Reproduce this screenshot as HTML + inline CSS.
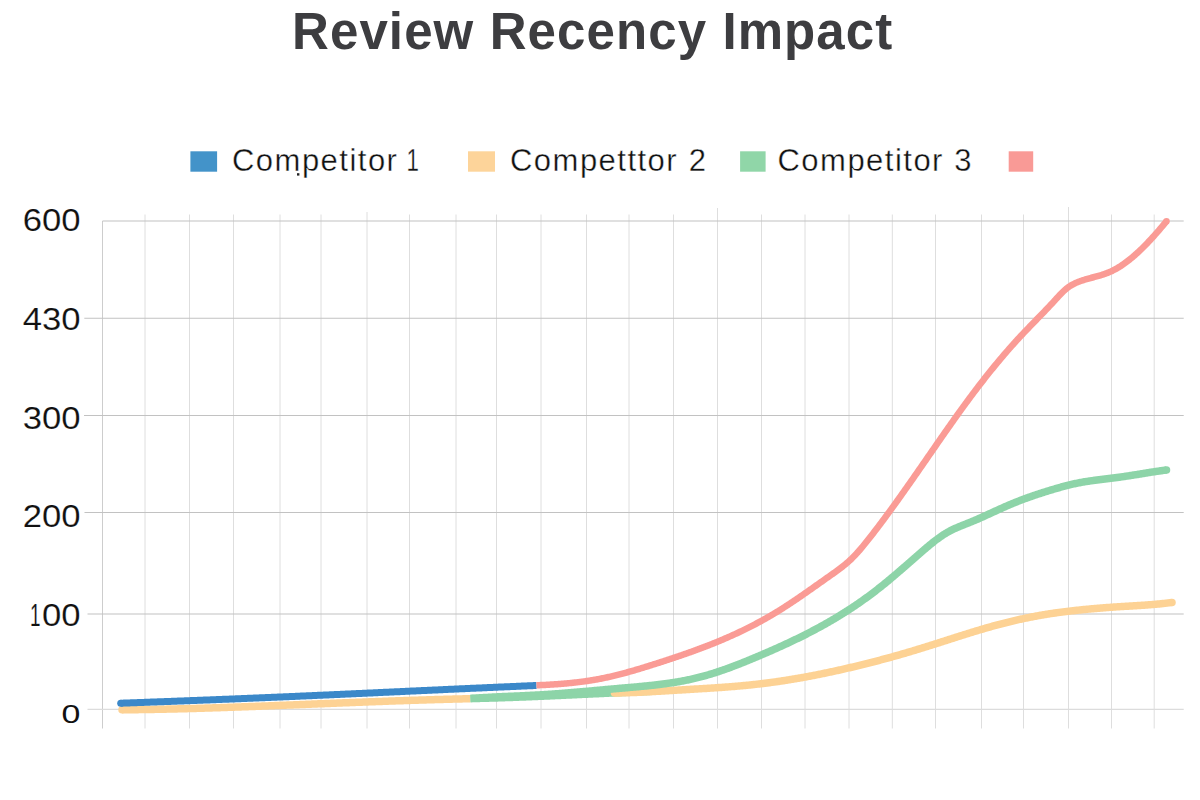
<!DOCTYPE html>
<html>
<head>
<meta charset="utf-8">
<style>
html,body{margin:0;padding:0;background:#ffffff;width:1200px;height:800px;overflow:hidden;}
svg{display:block;}
text{font-family:"Liberation Sans", sans-serif;}
</style>
</head>
<body>
<svg width="1200" height="800" viewBox="0 0 1200 800">
<rect x="0" y="0" width="1200" height="800" fill="#ffffff"/>
<!-- title -->
<text x="292" y="49.2" font-size="51" font-weight="bold" fill="#3d3d40" letter-spacing="1.1">Review Recency Impact</text>

<!-- legend -->
<rect x="190.4" y="151.3" width="26.7" height="20.4" fill="#4393c9"/>
<g font-size="31" fill="#111111" letter-spacing="1.48" stroke="#ffffff" stroke-width="0.35">
<text x="232" y="170.9">Competitor</text>
<text x="419" y="170.9" id="n1" text-anchor="end" letter-spacing="0" transform="translate(419 0) scale(0.72 1) translate(-419 0)">1</text>
<text x="510" y="170.9">Competttor</text>
<text x="706" y="170.9" id="n2" text-anchor="end" letter-spacing="0">2</text>
<text x="777.5" y="170.9">Competitor</text>
<text x="971.5" y="170.9" id="n3" text-anchor="end" letter-spacing="0">3</text>
</g>
<rect id="dot" x="297" y="173.2" width="2.4" height="2.4" fill="#222"/>
<rect x="468" y="151.3" width="27" height="20.4" fill="#fdd49a"/>
<rect x="740.1" y="151.3" width="25.5" height="20.4" fill="#90d6a8"/>
<rect x="1008.7" y="151.3" width="24.5" height="20.4" fill="#f99a96"/>

<!-- grid -->
<g stroke="#dedede" stroke-width="1" fill="none" id="vgrid">
<line x1="102.5" y1="221" x2="102.5" y2="728.5" stroke="#cdcdcd"/>
<line x1="145" y1="214.5" x2="145" y2="728.5"/>
<line x1="189.5" y1="214.5" x2="189.5" y2="728.5"/>
<line x1="233.5" y1="214.5" x2="233.5" y2="728.5"/>
<line x1="280" y1="214.5" x2="280" y2="728.5"/>
<line x1="321" y1="214.5" x2="321" y2="728.5"/>
<line x1="367" y1="212" x2="367" y2="728.5"/>
<line x1="409.5" y1="214.5" x2="409.5" y2="728.5"/>
<line x1="456" y1="214.5" x2="456" y2="728.5"/>
<line x1="496.5" y1="214.5" x2="496.5" y2="728.5"/>
<line x1="541" y1="214.5" x2="541" y2="728.5"/>
<line x1="586.5" y1="214.5" x2="586.5" y2="728.5"/>
<line x1="629" y1="214.5" x2="629" y2="728.5"/>
<line x1="673.5" y1="214.5" x2="673.5" y2="728.5"/>
<line x1="717.5" y1="208" x2="717.5" y2="728.5"/>
<line x1="761.5" y1="214.5" x2="761.5" y2="728.5"/>
<line x1="805" y1="214.5" x2="805" y2="728.5"/>
<line x1="849" y1="214.5" x2="849" y2="728.5"/>
<line x1="892.3" y1="214.5" x2="892.3" y2="728.5"/>
<line x1="935.5" y1="214.5" x2="935.5" y2="728.5"/>
<line x1="981.5" y1="214.5" x2="981.5" y2="728.5"/>
<line x1="1023.5" y1="214.5" x2="1023.5" y2="728.5"/>
<line x1="1068.5" y1="207" x2="1068.5" y2="728.5"/>
<line x1="1111.5" y1="214.5" x2="1111.5" y2="728.5"/>
<line x1="1154.2" y1="214.5" x2="1154.2" y2="728.5"/>
</g>
<g stroke="#c2c2c2" stroke-width="1.1" fill="none" id="hgrid">
<line x1="102.5" y1="221" x2="1183.7" y2="221"/>
<line x1="84.3" y1="318.3" x2="1183.7" y2="318.3"/>
<line x1="84" y1="415.5" x2="1183.7" y2="415.5"/>
<line x1="84.5" y1="512.5" x2="1183.7" y2="512.5"/>
<line x1="87.5" y1="614" x2="1183.7" y2="614"/>
<line x1="87.5" y1="709.4" x2="1183.7" y2="709.4" stroke="#dcdcdc"/>
</g>

<!-- y labels -->
<g font-size="31.5" fill="#111111" stroke="#ffffff" stroke-width="0.15" id="ylabels">
<text x="80.5" y="231.00" text-anchor="end" transform="translate(80.5 0) scale(1.1 1) translate(-80.5 0)">600</text>
<text x="80.5" y="329.80" text-anchor="end" transform="translate(80.5 0) scale(1.1 1) translate(-80.5 0)">430</text>
<text x="80.5" y="429.00" text-anchor="end" transform="translate(80.5 0) scale(1.1 1) translate(-80.5 0)">300</text>
<text x="80.5" y="526.90" text-anchor="end" transform="translate(80.5 0) scale(1.1 1) translate(-80.5 0)">200</text>
<text x="80.5" y="626.45" text-anchor="end" transform="translate(80.5 0) scale(1.1 1) translate(-80.5 0)">00</text>
<text x="40.4" y="626.45" text-anchor="end" transform="translate(40.4 0) scale(0.6 1) translate(-40.4 0)">1</text>
<text x="80.4" y="722.6" font-size="26.5" stroke="none" text-anchor="end" transform="translate(80.4 0) scale(1.28 1) translate(-80.4 0)">0</text>
</g>

<!-- series -->
<g fill="none" stroke-width="7" stroke-linejoin="round" id="series">
<path d="M122.0,709.80 L123.0,709.79 L124.0,709.79 L125.0,709.78 L126.0,709.77 L127.0,709.76 L128.0,709.75 L129.0,709.74 L130.0,709.73 L131.0,709.72 L132.0,709.71 L133.0,709.70 L134.0,709.68 L135.0,709.67 L136.0,709.66 L137.0,709.65 L138.0,709.63 L139.0,709.62 L140.0,709.61 L141.0,709.59 L142.0,709.58 L143.0,709.56 L144.0,709.55 L145.0,709.53 L146.0,709.52 L147.0,709.50 L148.0,709.49 L149.0,709.47 L150.0,709.45 L151.0,709.44 L152.0,709.42 L153.0,709.40 L154.0,709.38 L155.0,709.36 L156.0,709.35 L157.0,709.33 L158.0,709.31 L159.0,709.29 L160.0,709.27 L161.0,709.25 L162.0,709.23 L163.0,709.21 L164.0,709.19 L165.0,709.17 L166.0,709.14 L167.0,709.12 L168.0,709.10 L169.0,709.08 L170.0,709.06 L171.0,709.03 L172.0,709.01 L173.0,708.99 L174.0,708.96 L175.0,708.94 L176.0,708.92 L177.0,708.89 L178.0,708.87 L179.0,708.84 L180.0,708.82 L181.0,708.79 L182.0,708.77 L183.0,708.74 L184.0,708.72 L185.0,708.69 L186.0,708.66 L187.0,708.64 L188.0,708.61 L189.0,708.58 L190.0,708.55 L191.0,708.53 L192.0,708.50 L193.0,708.47 L194.0,708.44 L195.0,708.41 L196.0,708.39 L197.0,708.36 L198.0,708.33 L199.0,708.30 L200.0,708.27 L201.0,708.24 L202.0,708.21 L203.0,708.18 L204.0,708.15 L205.0,708.12 L206.0,708.09 L207.0,708.06 L208.0,708.02 L209.0,707.99 L210.0,707.96 L211.0,707.93 L212.0,707.90 L213.0,707.87 L214.0,707.83 L215.0,707.80 L216.0,707.77 L217.0,707.74 L218.0,707.70 L219.0,707.67 L220.0,707.64 L221.0,707.60 L222.0,707.57 L223.0,707.54 L224.0,707.50 L225.0,707.47 L226.0,707.43 L227.0,707.40 L228.0,707.36 L229.0,707.33 L230.0,707.29 L231.0,707.26 L232.0,707.22 L233.0,707.19 L234.0,707.15 L235.0,707.12 L236.0,707.08 L237.0,707.05 L238.0,707.01 L239.0,706.97 L240.0,706.94 L241.0,706.90 L242.0,706.87 L243.0,706.83 L244.0,706.79 L245.0,706.76 L246.0,706.72 L247.0,706.68 L248.0,706.64 L249.0,706.61 L250.0,706.57 L251.0,706.53 L252.0,706.49 L253.0,706.46 L254.0,706.42 L255.0,706.38 L256.0,706.34 L257.0,706.30 L258.0,706.27 L259.0,706.23 L260.0,706.19 L261.0,706.15 L262.0,706.11 L263.0,706.07 L264.0,706.03 L265.0,706.00 L266.0,705.96 L267.0,705.92 L268.0,705.88 L269.0,705.84 L270.0,705.80 L271.0,705.76 L272.0,705.72 L273.0,705.68 L274.0,705.64 L275.0,705.60 L276.0,705.56 L277.0,705.52 L278.0,705.48 L279.0,705.44 L280.0,705.40 L281.0,705.36 L282.0,705.32 L283.0,705.28 L284.0,705.24 L285.0,705.20 L286.0,705.16 L287.0,705.12 L288.0,705.08 L289.0,705.04 L290.0,705.00 L291.0,704.96 L292.0,704.92 L293.0,704.88 L294.0,704.84 L295.0,704.80 L296.0,704.76 L297.0,704.72 L298.0,704.68 L299.0,704.64 L300.0,704.60 L301.0,704.56 L302.0,704.52 L303.0,704.48 L304.0,704.44 L305.0,704.40 L306.0,704.36 L307.0,704.32 L308.0,704.28 L309.0,704.24 L310.0,704.20 L311.0,704.15 L312.0,704.11 L313.0,704.07 L314.0,704.03 L315.0,703.99 L316.0,703.95 L317.0,703.91 L318.0,703.87 L319.0,703.83 L320.0,703.79 L321.0,703.75 L322.0,703.71 L323.0,703.67 L324.0,703.63 L325.0,703.59 L326.0,703.55 L327.0,703.51 L328.0,703.47 L329.0,703.43 L330.0,703.39 L331.0,703.35 L332.0,703.31 L333.0,703.27 L334.0,703.23 L335.0,703.19 L336.0,703.15 L337.0,703.11 L338.0,703.07 L339.0,703.03 L340.0,702.99 L341.0,702.95 L342.0,702.91 L343.0,702.87 L344.0,702.83 L345.0,702.79 L346.0,702.75 L347.0,702.71 L348.0,702.67 L349.0,702.63 L350.0,702.59 L351.0,702.55 L352.0,702.52 L353.0,702.48 L354.0,702.44 L355.0,702.40 L356.0,702.36 L357.0,702.32 L358.0,702.28 L359.0,702.24 L360.0,702.20 L361.0,702.17 L362.0,702.13 L363.0,702.09 L364.0,702.05 L365.0,702.01 L366.0,701.97 L367.0,701.94 L368.0,701.90 L369.0,701.86 L370.0,701.82 L371.0,701.78 L372.0,701.75 L373.0,701.71 L374.0,701.67 L375.0,701.63 L376.0,701.60 L377.0,701.56 L378.0,701.52 L379.0,701.49 L380.0,701.45 L381.0,701.41 L382.0,701.38 L383.0,701.34 L384.0,701.30 L385.0,701.27 L386.0,701.23 L387.0,701.19 L388.0,701.16 L389.0,701.12 L390.0,701.09 L391.0,701.05 L392.0,701.01 L393.0,700.98 L394.0,700.94 L395.0,700.91 L396.0,700.87 L397.0,700.84 L398.0,700.80 L399.0,700.77 L400.0,700.73 L401.0,700.70 L402.0,700.67 L403.0,700.63 L404.0,700.60 L405.0,700.56 L406.0,700.53 L407.0,700.50 L408.0,700.46 L409.0,700.43 L410.0,700.39 L411.0,700.36 L412.0,700.33 L413.0,700.30 L414.0,700.26 L415.0,700.23 L416.0,700.20 L417.0,700.17 L418.0,700.13 L419.0,700.10 L420.0,700.07 L421.0,700.04 L422.0,700.01 L423.0,699.98 L424.0,699.94 L425.0,699.91 L426.0,699.88 L427.0,699.85 L428.0,699.82 L429.0,699.79 L430.0,699.76 L431.0,699.73 L432.0,699.70 L433.0,699.67 L434.0,699.64 L435.0,699.61 L436.0,699.58 L437.0,699.55 L438.0,699.52 L439.0,699.50 L440.0,699.47 L441.0,699.44 L442.0,699.41 L443.0,699.38 L444.0,699.36 L445.0,699.33 L446.0,699.30 L447.0,699.27 L448.0,699.25 L449.0,699.22 L450.0,699.19 L451.0,699.17 L452.0,699.14 L453.0,699.11 L454.0,699.09 L455.0,699.06 L456.0,699.04 L457.0,699.01 L458.0,698.99 L459.0,698.96 L460.0,698.94 L461.0,698.91 L462.0,698.89 L463.0,698.87 L464.0,698.84 L465.0,698.82 L466.0,698.80 L467.0,698.77 L468.0,698.75 L469.0,698.73 L470.0,698.70 L470.5,698.69" stroke="#fdd294" stroke-width="7.5" stroke-linecap="butt"/>
<circle cx="122.00" cy="709.80" r="3.75" fill="#fdd294"/>
<path d="M120.7,703.21 L121.7,703.17 L122.7,703.13 L123.7,703.10 L124.7,703.06 L125.7,703.03 L126.7,702.99 L127.7,702.96 L128.7,702.92 L129.7,702.88 L130.7,702.85 L131.7,702.81 L132.7,702.78 L133.7,702.74 L134.7,702.70 L135.7,702.67 L136.7,702.63 L137.7,702.59 L138.7,702.56 L139.7,702.52 L140.7,702.49 L141.7,702.45 L142.7,702.41 L143.7,702.38 L144.7,702.34 L145.7,702.30 L146.7,702.27 L147.7,702.23 L148.7,702.19 L149.7,702.16 L150.7,702.12 L151.7,702.08 L152.7,702.05 L153.7,702.01 L154.7,701.97 L155.7,701.94 L156.7,701.90 L157.7,701.86 L158.7,701.83 L159.7,701.79 L160.7,701.75 L161.7,701.71 L162.7,701.68 L163.7,701.64 L164.7,701.60 L165.7,701.56 L166.7,701.53 L167.7,701.49 L168.7,701.45 L169.7,701.41 L170.7,701.38 L171.7,701.34 L172.7,701.30 L173.7,701.26 L174.7,701.23 L175.7,701.19 L176.7,701.15 L177.7,701.11 L178.7,701.08 L179.7,701.04 L180.7,701.00 L181.7,700.96 L182.7,700.92 L183.7,700.89 L184.7,700.85 L185.7,700.81 L186.7,700.77 L187.7,700.73 L188.7,700.69 L189.7,700.66 L190.7,700.62 L191.7,700.58 L192.7,700.54 L193.7,700.50 L194.7,700.46 L195.7,700.42 L196.7,700.39 L197.7,700.35 L198.7,700.31 L199.7,700.27 L200.7,700.23 L201.7,700.19 L202.7,700.15 L203.7,700.11 L204.7,700.08 L205.7,700.04 L206.7,700.00 L207.7,699.96 L208.7,699.92 L209.7,699.88 L210.7,699.84 L211.7,699.80 L212.7,699.76 L213.7,699.72 L214.7,699.68 L215.7,699.64 L216.7,699.60 L217.7,699.56 L218.7,699.52 L219.7,699.48 L220.7,699.45 L221.7,699.41 L222.7,699.37 L223.7,699.33 L224.7,699.29 L225.7,699.25 L226.7,699.21 L227.7,699.17 L228.7,699.13 L229.7,699.09 L230.7,699.05 L231.7,699.01 L232.7,698.97 L233.7,698.92 L234.7,698.88 L235.7,698.84 L236.7,698.80 L237.7,698.76 L238.7,698.72 L239.7,698.68 L240.7,698.64 L241.7,698.60 L242.7,698.56 L243.7,698.52 L244.7,698.48 L245.7,698.44 L246.7,698.40 L247.7,698.36 L248.7,698.31 L249.7,698.27 L250.7,698.23 L251.7,698.19 L252.7,698.15 L253.7,698.11 L254.7,698.07 L255.7,698.03 L256.7,697.98 L257.7,697.94 L258.7,697.90 L259.7,697.86 L260.7,697.82 L261.7,697.78 L262.7,697.74 L263.7,697.69 L264.7,697.65 L265.7,697.61 L266.7,697.57 L267.7,697.53 L268.7,697.48 L269.7,697.44 L270.7,697.40 L271.7,697.36 L272.7,697.32 L273.7,697.27 L274.7,697.23 L275.7,697.19 L276.7,697.15 L277.7,697.10 L278.7,697.06 L279.7,697.02 L280.7,696.98 L281.7,696.93 L282.7,696.89 L283.7,696.85 L284.7,696.81 L285.7,696.76 L286.7,696.72 L287.7,696.68 L288.7,696.63 L289.7,696.59 L290.7,696.55 L291.7,696.51 L292.7,696.46 L293.7,696.42 L294.7,696.38 L295.7,696.33 L296.7,696.29 L297.7,696.25 L298.7,696.20 L299.7,696.16 L300.7,696.12 L301.7,696.07 L302.7,696.03 L303.7,695.98 L304.7,695.94 L305.7,695.90 L306.7,695.85 L307.7,695.81 L308.7,695.77 L309.7,695.72 L310.7,695.68 L311.7,695.63 L312.7,695.59 L313.7,695.54 L314.7,695.50 L315.7,695.46 L316.7,695.41 L317.7,695.37 L318.7,695.32 L319.7,695.28 L320.7,695.23 L321.7,695.19 L322.7,695.15 L323.7,695.10 L324.7,695.06 L325.7,695.01 L326.7,694.97 L327.7,694.92 L328.7,694.88 L329.7,694.83 L330.7,694.79 L331.7,694.74 L332.7,694.70 L333.7,694.65 L334.7,694.61 L335.7,694.56 L336.7,694.52 L337.7,694.47 L338.7,694.43 L339.7,694.38 L340.7,694.34 L341.7,694.29 L342.7,694.25 L343.7,694.20 L344.7,694.16 L345.7,694.11 L346.7,694.06 L347.7,694.02 L348.7,693.97 L349.7,693.93 L350.7,693.88 L351.7,693.84 L352.7,693.79 L353.7,693.75 L354.7,693.70 L355.7,693.66 L356.7,693.61 L357.7,693.56 L358.7,693.52 L359.7,693.47 L360.7,693.43 L361.7,693.38 L362.7,693.34 L363.7,693.29 L364.7,693.24 L365.7,693.20 L366.7,693.15 L367.7,693.11 L368.7,693.06 L369.7,693.01 L370.7,692.97 L371.7,692.92 L372.7,692.88 L373.7,692.83 L374.7,692.78 L375.7,692.74 L376.7,692.69 L377.7,692.65 L378.7,692.60 L379.7,692.55 L380.7,692.51 L381.7,692.46 L382.7,692.42 L383.7,692.37 L384.7,692.32 L385.7,692.28 L386.7,692.23 L387.7,692.19 L388.7,692.14 L389.7,692.09 L390.7,692.05 L391.7,692.00 L392.7,691.95 L393.7,691.91 L394.7,691.86 L395.7,691.82 L396.7,691.77 L397.7,691.72 L398.7,691.68 L399.7,691.63 L400.7,691.58 L401.7,691.54 L402.7,691.49 L403.7,691.45 L404.7,691.40 L405.7,691.35 L406.7,691.31 L407.7,691.26 L408.7,691.22 L409.7,691.17 L410.7,691.12 L411.7,691.08 L412.7,691.03 L413.7,690.98 L414.7,690.94 L415.7,690.89 L416.7,690.85 L417.7,690.80 L418.7,690.75 L419.7,690.71 L420.7,690.66 L421.7,690.61 L422.7,690.57 L423.7,690.52 L424.7,690.48 L425.7,690.43 L426.7,690.38 L427.7,690.34 L428.7,690.29 L429.7,690.25 L430.7,690.20 L431.7,690.15 L432.7,690.11 L433.7,690.06 L434.7,690.02 L435.7,689.97 L436.7,689.92 L437.7,689.88 L438.7,689.83 L439.7,689.79 L440.7,689.74 L441.7,689.69 L442.7,689.65 L443.7,689.60 L444.7,689.56 L445.7,689.51 L446.7,689.46 L447.7,689.42 L448.7,689.37 L449.7,689.33 L450.7,689.28 L451.7,689.24 L452.7,689.19 L453.7,689.14 L454.7,689.10 L455.7,689.05 L456.7,689.01 L457.7,688.96 L458.7,688.92 L459.7,688.87 L460.7,688.83 L461.7,688.78 L462.7,688.73 L463.7,688.69 L464.7,688.64 L465.7,688.60 L466.7,688.55 L467.7,688.51 L468.7,688.46 L469.7,688.42 L470.7,688.37 L471.7,688.33 L472.7,688.28 L473.7,688.24 L474.7,688.19 L475.7,688.15 L476.7,688.10 L477.7,688.06 L478.7,688.01 L479.7,687.97 L480.7,687.92 L481.7,687.88 L482.7,687.83 L483.7,687.79 L484.7,687.74 L485.7,687.70 L486.7,687.65 L487.7,687.61 L488.7,687.56 L489.7,687.52 L490.7,687.48 L491.7,687.43 L492.7,687.39 L493.7,687.34 L494.7,687.30 L495.7,687.25 L496.7,687.21 L497.7,687.17 L498.7,687.12 L499.7,687.08 L500.7,687.03 L501.7,686.99 L502.7,686.95 L503.7,686.90 L504.7,686.86 L505.7,686.81 L506.7,686.77 L507.7,686.73 L508.7,686.68 L509.7,686.64 L510.7,686.60 L511.7,686.55 L512.7,686.51 L513.7,686.46 L514.7,686.42 L515.7,686.38 L516.7,686.33 L517.7,686.29 L518.7,686.25 L519.7,686.21 L520.7,686.16 L521.7,686.12 L522.7,686.08 L523.7,686.03 L524.7,685.99 L525.7,685.95 L526.7,685.91 L527.7,685.86 L528.7,685.82 L529.7,685.78 L530.7,685.74 L531.7,685.69 L532.7,685.65 L533.7,685.61 L534.7,685.57 L535.7,685.52 L536.5,685.49" stroke="#3b88c9" stroke-width="7.0" stroke-linecap="butt"/>
<circle cx="120.70" cy="703.21" r="3.5" fill="#3b88c9"/>
<path d="M470.5,698.60 L471.5,698.58 L472.5,698.56 L473.5,698.53 L474.5,698.51 L475.5,698.49 L476.5,698.47 L477.5,698.44 L478.5,698.42 L479.5,698.39 L480.5,698.37 L481.5,698.34 L482.5,698.32 L483.5,698.29 L484.5,698.26 L485.5,698.24 L486.5,698.21 L487.5,698.18 L488.5,698.15 L489.5,698.12 L490.5,698.10 L491.5,698.07 L492.5,698.04 L493.5,698.01 L494.5,697.98 L495.5,697.95 L496.5,697.92 L497.5,697.88 L498.5,697.85 L499.5,697.82 L500.5,697.79 L501.5,697.76 L502.5,697.72 L503.5,697.69 L504.5,697.66 L505.5,697.62 L506.5,697.59 L507.5,697.55 L508.5,697.52 L509.5,697.48 L510.5,697.45 L511.5,697.41 L512.5,697.38 L513.5,697.34 L514.5,697.30 L515.5,697.27 L516.5,697.23 L517.5,697.19 L518.5,697.15 L519.5,697.12 L520.5,697.08 L521.5,697.04 L522.5,697.00 L523.5,696.96 L524.5,696.92 L525.5,696.88 L526.5,696.84 L527.5,696.80 L528.5,696.76 L529.5,696.72 L530.5,696.68 L531.5,696.64 L532.5,696.60 L533.5,696.56 L534.5,696.52 L535.5,696.48 L536.5,696.44 L537.5,696.39 L538.5,696.35 L539.5,696.31 L540.5,696.27 L541.5,696.22 L542.5,696.18 L543.5,696.14 L544.5,696.09 L545.5,696.05 L546.5,696.01 L547.5,695.96 L548.5,695.92 L549.5,695.88 L550.5,695.83 L551.5,695.79 L552.5,695.74 L553.5,695.70 L554.5,695.66 L555.5,695.61 L556.5,695.57 L557.5,695.52 L558.5,695.48 L559.5,695.43 L560.5,695.39 L561.5,695.34 L562.5,695.29 L563.5,695.25 L564.5,695.20 L565.5,695.16 L566.5,695.11 L567.5,695.07 L568.5,695.02 L569.5,694.97 L570.5,694.93 L571.5,694.88 L572.5,694.84 L573.5,694.79 L574.5,694.74 L575.5,694.70 L576.5,694.65 L577.5,694.60 L578.5,694.56 L579.5,694.51 L580.5,694.46 L581.5,694.42 L582.5,694.37 L583.5,694.32 L584.5,694.28 L585.5,694.23 L586.5,694.18 L587.5,694.14 L588.5,694.09 L589.5,694.05 L590.5,694.00 L591.5,693.95 L592.5,693.91 L593.5,693.86 L594.5,693.81 L595.5,693.77 L596.5,693.72 L597.5,693.67 L598.5,693.63 L599.5,693.58 L600.5,693.53 L601.5,693.49 L602.5,693.44 L603.5,693.40 L604.5,693.35 L605.5,693.30 L606.5,693.26 L607.5,693.21 L608.5,693.17 L609.5,693.12 L610.5,693.07 L611.5,693.03 L612.5,692.98 L613.5,692.94 L614.5,692.89 L615.5,692.85 L616.5,692.80 L617.5,692.76 L618.5,692.71 L619.5,692.67 L620.5,692.62 L621.5,692.58 L622.5,692.53 L623.5,692.49 L624.5,692.45 L625.5,692.40 L626.5,692.36 L627.5,692.31 L628.5,692.27 L629.5,692.23 L630.5,692.18 L631.5,692.14 L632.5,692.10 L633.5,692.06 L634.5,692.01 L635.5,691.97 L636.5,691.93 L637.5,691.89 L638.5,691.85 L639.5,691.80 L640.5,691.76 L641.5,691.72 L642.5,691.68 L643.5,691.64 L644.5,691.60 L645.5,691.56 L646.5,691.52 L647.5,691.48 L648.5,691.44 L649.5,691.40 L650.5,691.36 L651.5,691.32 L652.5,691.28 L653.5,691.25 L654.5,691.21 L655.5,691.17 L656.5,691.13 L657.5,691.09 L658.5,691.06 L659.5,691.02 L660.0,691.00" stroke="#8dd4a8" stroke-width="7.5" stroke-linecap="butt"/>
<path d="M614.5,693.00 L615.5,692.99 L616.5,692.97 L617.5,692.96 L618.5,692.94 L619.5,692.92 L620.5,692.90 L621.5,692.88 L622.5,692.85 L623.5,692.83 L624.5,692.80 L625.5,692.77 L626.5,692.74 L627.5,692.71 L628.5,692.68 L629.5,692.65 L630.5,692.61 L631.5,692.58 L632.5,692.54 L633.5,692.50 L634.5,692.46 L635.5,692.42 L636.5,692.38 L637.5,692.34 L638.5,692.30 L639.5,692.25 L640.5,692.21 L641.5,692.16 L642.5,692.12 L643.5,692.07 L644.5,692.02 L645.5,691.97 L646.5,691.92 L647.5,691.87 L648.5,691.82 L649.5,691.76 L650.5,691.71 L651.5,691.66 L652.5,691.60 L653.5,691.55 L654.5,691.49 L655.5,691.44 L656.5,691.38 L657.5,691.32 L658.5,691.26 L659.5,691.21 L660.5,691.15 L661.5,691.09 L662.5,691.03 L663.5,690.97 L664.5,690.91 L665.5,690.85 L666.5,690.79 L667.5,690.73 L668.5,690.67 L669.5,690.61 L670.5,690.55 L671.5,690.49 L672.5,690.43 L673.5,690.37 L674.5,690.31 L675.5,690.25 L676.5,690.19 L677.5,690.13 L678.5,690.07 L679.5,690.00 L680.5,689.94 L681.5,689.89 L682.5,689.83 L683.5,689.77 L684.5,689.71 L685.5,689.65 L686.5,689.59 L687.5,689.53 L688.5,689.47 L689.5,689.41 L690.5,689.35 L691.5,689.29 L692.5,689.23 L693.5,689.17 L694.5,689.11 L695.5,689.06 L696.5,689.00 L697.5,688.94 L698.5,688.88 L699.5,688.82 L700.5,688.75 L701.5,688.69 L702.5,688.63 L703.5,688.57 L704.5,688.51 L705.5,688.45 L706.5,688.39 L707.5,688.32 L708.5,688.26 L709.5,688.20 L710.5,688.13 L711.5,688.07 L712.5,688.00 L713.5,687.94 L714.5,687.87 L715.5,687.80 L716.5,687.73 L717.5,687.67 L718.5,687.60 L719.5,687.53 L720.5,687.46 L721.5,687.39 L722.5,687.31 L723.5,687.24 L724.5,687.17 L725.5,687.09 L726.5,687.02 L727.5,686.94 L728.5,686.87 L729.5,686.79 L730.5,686.71 L731.5,686.63 L732.5,686.55 L733.5,686.47 L734.5,686.39 L735.5,686.30 L736.5,686.22 L737.5,686.13 L738.5,686.05 L739.5,685.96 L740.5,685.87 L741.5,685.78 L742.5,685.69 L743.5,685.59 L744.5,685.50 L745.5,685.41 L746.5,685.31 L747.5,685.21 L748.5,685.11 L749.5,685.01 L750.5,684.91 L751.5,684.81 L752.5,684.70 L753.5,684.59 L754.5,684.49 L755.5,684.38 L756.5,684.27 L757.5,684.15 L758.5,684.04 L759.5,683.93 L760.5,683.81 L761.5,683.69 L762.5,683.57 L763.5,683.45 L764.5,683.32 L765.5,683.20 L766.5,683.07 L767.5,682.94 L768.5,682.81 L769.5,682.68 L770.5,682.55 L771.5,682.41 L772.5,682.28 L773.5,682.14 L774.5,682.00 L775.5,681.86 L776.5,681.72 L777.5,681.57 L778.5,681.43 L779.5,681.28 L780.5,681.13 L781.5,680.98 L782.5,680.83 L783.5,680.68 L784.5,680.53 L785.5,680.37 L786.5,680.21 L787.5,680.05 L788.5,679.89 L789.5,679.73 L790.5,679.57 L791.5,679.41 L792.5,679.24 L793.5,679.07 L794.5,678.91 L795.5,678.74 L796.5,678.56 L797.5,678.39 L798.5,678.22 L799.5,678.04 L800.5,677.87 L801.5,677.69 L802.5,677.51 L803.5,677.33 L804.5,677.15 L805.5,676.97 L806.5,676.78 L807.5,676.60 L808.5,676.41 L809.5,676.22 L810.5,676.03 L811.5,675.84 L812.5,675.65 L813.5,675.46 L814.5,675.26 L815.5,675.07 L816.5,674.87 L817.5,674.67 L818.5,674.47 L819.5,674.27 L820.5,674.07 L821.5,673.87 L822.5,673.66 L823.5,673.46 L824.5,673.25 L825.5,673.04 L826.5,672.84 L827.5,672.63 L828.5,672.42 L829.5,672.20 L830.5,671.99 L831.5,671.78 L832.5,671.56 L833.5,671.34 L834.5,671.13 L835.5,670.91 L836.5,670.69 L837.5,670.47 L838.5,670.25 L839.5,670.02 L840.5,669.80 L841.5,669.58 L842.5,669.35 L843.5,669.12 L844.5,668.90 L845.5,668.67 L846.5,668.44 L847.5,668.21 L848.5,667.97 L849.5,667.74 L850.5,667.51 L851.5,667.27 L852.5,667.04 L853.5,666.80 L854.5,666.56 L855.5,666.32 L856.5,666.08 L857.5,665.84 L858.5,665.60 L859.5,665.35 L860.5,665.11 L861.5,664.86 L862.5,664.62 L863.5,664.37 L864.5,664.12 L865.5,663.87 L866.5,663.62 L867.5,663.37 L868.5,663.12 L869.5,662.86 L870.5,662.61 L871.5,662.35 L872.5,662.10 L873.5,661.84 L874.5,661.58 L875.5,661.32 L876.5,661.06 L877.5,660.80 L878.5,660.53 L879.5,660.27 L880.5,660.00 L881.5,659.74 L882.5,659.47 L883.5,659.20 L884.5,658.93 L885.5,658.66 L886.5,658.39 L887.5,658.12 L888.5,657.84 L889.5,657.57 L890.5,657.29 L891.5,657.02 L892.5,656.74 L893.5,656.46 L894.5,656.18 L895.5,655.90 L896.5,655.62 L897.5,655.34 L898.5,655.05 L899.5,654.77 L900.5,654.48 L901.5,654.19 L902.5,653.91 L903.5,653.62 L904.5,653.33 L905.5,653.04 L906.5,652.74 L907.5,652.45 L908.5,652.16 L909.5,651.86 L910.5,651.56 L911.5,651.27 L912.5,650.97 L913.5,650.67 L914.5,650.37 L915.5,650.07 L916.5,649.76 L917.5,649.46 L918.5,649.15 L919.5,648.85 L920.5,648.54 L921.5,648.23 L922.5,647.93 L923.5,647.62 L924.5,647.30 L925.5,646.99 L926.5,646.68 L927.5,646.37 L928.5,646.05 L929.5,645.74 L930.5,645.42 L931.5,645.11 L932.5,644.79 L933.5,644.47 L934.5,644.16 L935.5,643.84 L936.5,643.52 L937.5,643.20 L938.5,642.88 L939.5,642.56 L940.5,642.24 L941.5,641.92 L942.5,641.60 L943.5,641.28 L944.5,640.96 L945.5,640.64 L946.5,640.32 L947.5,640.00 L948.5,639.68 L949.5,639.36 L950.5,639.04 L951.5,638.72 L952.5,638.40 L953.5,638.08 L954.5,637.76 L955.5,637.44 L956.5,637.12 L957.5,636.80 L958.5,636.48 L959.5,636.17 L960.5,635.85 L961.5,635.53 L962.5,635.22 L963.5,634.90 L964.5,634.59 L965.5,634.27 L966.5,633.96 L967.5,633.65 L968.5,633.34 L969.5,633.03 L970.5,632.72 L971.5,632.41 L972.5,632.10 L973.5,631.79 L974.5,631.49 L975.5,631.18 L976.5,630.88 L977.5,630.58 L978.5,630.28 L979.5,629.98 L980.5,629.68 L981.5,629.39 L982.5,629.09 L983.5,628.80 L984.5,628.50 L985.5,628.21 L986.5,627.92 L987.5,627.64 L988.5,627.35 L989.5,627.07 L990.5,626.78 L991.5,626.50 L992.5,626.22 L993.5,625.95 L994.5,625.67 L995.5,625.40 L996.5,625.12 L997.5,624.86 L998.5,624.59 L999.5,624.32 L1000.5,624.06 L1001.5,623.80 L1002.5,623.54 L1003.5,623.28 L1004.5,623.03 L1005.5,622.77 L1006.5,622.52 L1007.5,622.28 L1008.5,622.03 L1009.5,621.79 L1010.5,621.54 L1011.5,621.30 L1012.5,621.07 L1013.5,620.83 L1014.5,620.60 L1015.5,620.37 L1016.5,620.14 L1017.5,619.91 L1018.5,619.69 L1019.5,619.46 L1020.5,619.24 L1021.5,619.03 L1022.5,618.81 L1023.5,618.60 L1024.5,618.39 L1025.5,618.18 L1026.5,617.97 L1027.5,617.76 L1028.5,617.56 L1029.5,617.36 L1030.5,617.16 L1031.5,616.97 L1032.5,616.77 L1033.5,616.58 L1034.5,616.39 L1035.5,616.20 L1036.5,616.02 L1037.5,615.84 L1038.5,615.66 L1039.5,615.48 L1040.5,615.30 L1041.5,615.13 L1042.5,614.96 L1043.5,614.79 L1044.5,614.62 L1045.5,614.45 L1046.5,614.29 L1047.5,614.13 L1048.5,613.97 L1049.5,613.81 L1050.5,613.66 L1051.5,613.51 L1052.5,613.36 L1053.5,613.21 L1054.5,613.07 L1055.5,612.92 L1056.5,612.78 L1057.5,612.64 L1058.5,612.51 L1059.5,612.37 L1060.5,612.24 L1061.5,612.10 L1062.5,611.98 L1063.5,611.85 L1064.5,611.72 L1065.5,611.60 L1066.5,611.47 L1067.5,611.35 L1068.5,611.23 L1069.5,611.11 L1070.5,611.00 L1071.5,610.88 L1072.5,610.77 L1073.5,610.66 L1074.5,610.55 L1075.5,610.44 L1076.5,610.33 L1077.5,610.22 L1078.5,610.11 L1079.5,610.01 L1080.5,609.91 L1081.5,609.80 L1082.5,609.70 L1083.5,609.60 L1084.5,609.50 L1085.5,609.41 L1086.5,609.31 L1087.5,609.21 L1088.5,609.12 L1089.5,609.03 L1090.5,608.93 L1091.5,608.84 L1092.5,608.75 L1093.5,608.66 L1094.5,608.57 L1095.5,608.49 L1096.5,608.40 L1097.5,608.31 L1098.5,608.23 L1099.5,608.15 L1100.5,608.07 L1101.5,607.98 L1102.5,607.90 L1103.5,607.83 L1104.5,607.75 L1105.5,607.67 L1106.5,607.59 L1107.5,607.52 L1108.5,607.44 L1109.5,607.37 L1110.5,607.30 L1111.5,607.23 L1112.5,607.16 L1113.5,607.09 L1114.5,607.02 L1115.5,606.95 L1116.5,606.88 L1117.5,606.82 L1118.5,606.75 L1119.5,606.69 L1120.5,606.63 L1121.5,606.56 L1122.5,606.50 L1123.5,606.44 L1124.5,606.38 L1125.5,606.32 L1126.5,606.26 L1127.5,606.20 L1128.5,606.14 L1129.5,606.08 L1130.5,606.02 L1131.5,605.96 L1132.5,605.91 L1133.5,605.85 L1134.5,605.79 L1135.5,605.73 L1136.5,605.66 L1137.5,605.60 L1138.5,605.54 L1139.5,605.48 L1140.5,605.41 L1141.5,605.35 L1142.5,605.28 L1143.5,605.21 L1144.5,605.15 L1145.5,605.08 L1146.5,605.00 L1147.5,604.93 L1148.5,604.86 L1149.5,604.78 L1150.5,604.70 L1151.5,604.62 L1152.5,604.54 L1153.5,604.45 L1154.5,604.37 L1155.5,604.28 L1156.5,604.19 L1157.5,604.09 L1158.5,604.00 L1159.5,603.90 L1160.5,603.80 L1161.5,603.69 L1162.5,603.58 L1163.5,603.47 L1164.5,603.36 L1165.5,603.24 L1166.5,603.12 L1167.5,603.00 L1168.5,602.87 L1169.5,602.74 L1170.5,602.61 L1171.5,602.47 L1172.0,602.40" stroke="#fdd294" stroke-width="7.5" stroke-linecap="butt"/>
<circle cx="614.50" cy="693.00" r="3.75" fill="#fdd294"/>
<circle cx="1172.00" cy="602.40" r="3.75" fill="#fdd294"/>
<path d="M470.5,698.50 L471.5,698.42 L472.5,698.35 L473.5,698.27 L474.5,698.20 L475.5,698.13 L476.5,698.06 L477.5,697.99 L478.5,697.92 L479.5,697.86 L480.5,697.79 L481.5,697.73 L482.5,697.67 L483.5,697.61 L484.5,697.55 L485.5,697.49 L486.5,697.43 L487.5,697.37 L488.5,697.32 L489.5,697.26 L490.5,697.21 L491.5,697.16 L492.5,697.10 L493.5,697.05 L494.5,697.00 L495.5,696.95 L496.5,696.90 L497.5,696.86 L498.5,696.81 L499.5,696.76 L500.5,696.71 L501.5,696.67 L502.5,696.62 L503.5,696.58 L504.5,696.53 L505.5,696.49 L506.5,696.44 L507.5,696.40 L508.5,696.36 L509.5,696.31 L510.5,696.27 L511.5,696.22 L512.5,696.18 L513.5,696.14 L514.5,696.09 L515.5,696.05 L516.5,696.01 L517.5,695.96 L518.5,695.92 L519.5,695.88 L520.5,695.83 L521.5,695.79 L522.5,695.74 L523.5,695.70 L524.5,695.65 L525.5,695.60 L526.5,695.56 L527.5,695.51 L528.5,695.46 L529.5,695.41 L530.5,695.36 L531.5,695.31 L532.5,695.26 L533.5,695.21 L534.5,695.16 L535.5,695.11 L536.5,695.05 L537.5,695.00 L538.5,694.94 L539.5,694.89 L540.5,694.83 L541.5,694.77 L542.5,694.71 L543.5,694.65 L544.5,694.59 L545.5,694.52 L546.5,694.46 L547.5,694.39 L548.5,694.33 L549.5,694.26 L550.5,694.19 L551.5,694.13 L552.5,694.06 L553.5,693.99 L554.5,693.92 L555.5,693.84 L556.5,693.77 L557.5,693.70 L558.5,693.62 L559.5,693.55 L560.5,693.47 L561.5,693.40 L562.5,693.32 L563.5,693.24 L564.5,693.16 L565.5,693.08 L566.5,693.01 L567.5,692.93 L568.5,692.84 L569.5,692.76 L570.5,692.68 L571.5,692.60 L572.5,692.52 L573.5,692.43 L574.5,692.35 L575.5,692.26 L576.5,692.18 L577.5,692.09 L578.5,692.01 L579.5,691.92 L580.5,691.83 L581.5,691.75 L582.5,691.66 L583.5,691.57 L584.5,691.49 L585.5,691.40 L586.5,691.31 L587.5,691.22 L588.5,691.13 L589.5,691.04 L590.5,690.95 L591.5,690.86 L592.5,690.77 L593.5,690.68 L594.5,690.59 L595.5,690.50 L596.5,690.41 L597.5,690.32 L598.5,690.23 L599.5,690.14 L600.5,690.05 L601.5,689.96 L602.5,689.87 L603.5,689.78 L604.5,689.69 L605.5,689.60 L606.5,689.51 L607.5,689.42 L608.5,689.33 L609.5,689.24 L610.5,689.15 L611.5,689.06 L612.5,688.97 L613.5,688.88 L614.5,688.79 L615.5,688.70 L616.5,688.61 L617.5,688.52 L618.5,688.44 L619.5,688.35 L620.5,688.26 L621.5,688.17 L622.5,688.09 L623.5,688.00 L624.5,687.91 L625.5,687.82 L626.5,687.74 L627.5,687.65 L628.5,687.56 L629.5,687.48 L630.5,687.39 L631.5,687.30 L632.5,687.21 L633.5,687.12 L634.5,687.04 L635.5,686.95 L636.5,686.86 L637.5,686.76 L638.5,686.67 L639.5,686.58 L640.5,686.49 L641.5,686.39 L642.5,686.30 L643.5,686.20 L644.5,686.10 L645.5,686.00 L646.5,685.90 L647.5,685.80 L648.5,685.70 L649.5,685.60 L650.5,685.49 L651.5,685.38 L652.5,685.27 L653.5,685.16 L654.5,685.05 L655.5,684.94 L656.5,684.82 L657.5,684.70 L658.5,684.58 L659.5,684.46 L660.5,684.34 L661.5,684.21 L662.5,684.08 L663.5,683.95 L664.5,683.82 L665.5,683.69 L666.5,683.55 L667.5,683.41 L668.5,683.26 L669.5,683.12 L670.5,682.97 L671.5,682.82 L672.5,682.67 L673.5,682.51 L674.5,682.35 L675.5,682.19 L676.5,682.02 L677.5,681.85 L678.5,681.68 L679.5,681.50 L680.5,681.32 L681.5,681.14 L682.5,680.96 L683.5,680.77 L684.5,680.58 L685.5,680.38 L686.5,680.18 L687.5,679.98 L688.5,679.77 L689.5,679.56 L690.5,679.34 L691.5,679.12 L692.5,678.90 L693.5,678.67 L694.5,678.44 L695.5,678.20 L696.5,677.96 L697.5,677.72 L698.5,677.47 L699.5,677.21 L700.5,676.96 L701.5,676.69 L702.5,676.43 L703.5,676.15 L704.5,675.88 L705.5,675.60 L706.5,675.31 L707.5,675.02 L708.5,674.73 L709.5,674.43 L710.5,674.13 L711.5,673.83 L712.5,673.52 L713.5,673.21 L714.5,672.89 L715.5,672.57 L716.5,672.25 L717.5,671.92 L718.5,671.59 L719.5,671.25 L720.5,670.92 L721.5,670.57 L722.5,670.23 L723.5,669.88 L724.5,669.53 L725.5,669.18 L726.5,668.82 L727.5,668.46 L728.5,668.10 L729.5,667.73 L730.5,667.36 L731.5,666.99 L732.5,666.61 L733.5,666.24 L734.5,665.86 L735.5,665.48 L736.5,665.09 L737.5,664.70 L738.5,664.32 L739.5,663.92 L740.5,663.53 L741.5,663.13 L742.5,662.74 L743.5,662.34 L744.5,661.93 L745.5,661.53 L746.5,661.12 L747.5,660.72 L748.5,660.31 L749.5,659.89 L750.5,659.48 L751.5,659.07 L752.5,658.65 L753.5,658.23 L754.5,657.82 L755.5,657.40 L756.5,656.97 L757.5,656.55 L758.5,656.13 L759.5,655.70 L760.5,655.28 L761.5,654.85 L762.5,654.42 L763.5,653.99 L764.5,653.56 L765.5,653.13 L766.5,652.70 L767.5,652.26 L768.5,651.83 L769.5,651.39 L770.5,650.96 L771.5,650.52 L772.5,650.08 L773.5,649.63 L774.5,649.19 L775.5,648.75 L776.5,648.30 L777.5,647.85 L778.5,647.40 L779.5,646.95 L780.5,646.50 L781.5,646.04 L782.5,645.59 L783.5,645.13 L784.5,644.67 L785.5,644.21 L786.5,643.75 L787.5,643.28 L788.5,642.81 L789.5,642.34 L790.5,641.87 L791.5,641.40 L792.5,640.92 L793.5,640.45 L794.5,639.97 L795.5,639.49 L796.5,639.00 L797.5,638.52 L798.5,638.03 L799.5,637.54 L800.5,637.04 L801.5,636.55 L802.5,636.05 L803.5,635.55 L804.5,635.05 L805.5,634.54 L806.5,634.04 L807.5,633.53 L808.5,633.01 L809.5,632.50 L810.5,631.98 L811.5,631.46 L812.5,630.93 L813.5,630.41 L814.5,629.88 L815.5,629.35 L816.5,628.81 L817.5,628.28 L818.5,627.73 L819.5,627.19 L820.5,626.64 L821.5,626.10 L822.5,625.54 L823.5,624.99 L824.5,624.43 L825.5,623.87 L826.5,623.30 L827.5,622.73 L828.5,622.16 L829.5,621.58 L830.5,621.01 L831.5,620.42 L832.5,619.84 L833.5,619.25 L834.5,618.66 L835.5,618.06 L836.5,617.46 L837.5,616.86 L838.5,616.25 L839.5,615.64 L840.5,615.03 L841.5,614.41 L842.5,613.79 L843.5,613.16 L844.5,612.53 L845.5,611.90 L846.5,611.26 L847.5,610.62 L848.5,609.98 L849.5,609.33 L850.5,608.68 L851.5,608.02 L852.5,607.36 L853.5,606.69 L854.5,606.02 L855.5,605.35 L856.5,604.67 L857.5,603.99 L858.5,603.30 L859.5,602.61 L860.5,601.91 L861.5,601.21 L862.5,600.51 L863.5,599.80 L864.5,599.08 L865.5,598.36 L866.5,597.64 L867.5,596.91 L868.5,596.18 L869.5,595.44 L870.5,594.70 L871.5,593.95 L872.5,593.20 L873.5,592.44 L874.5,591.68 L875.5,590.91 L876.5,590.14 L877.5,589.36 L878.5,588.58 L879.5,587.79 L880.5,587.00 L881.5,586.20 L882.5,585.40 L883.5,584.59 L884.5,583.78 L885.5,582.97 L886.5,582.15 L887.5,581.32 L888.5,580.49 L889.5,579.66 L890.5,578.82 L891.5,577.98 L892.5,577.14 L893.5,576.29 L894.5,575.45 L895.5,574.59 L896.5,573.74 L897.5,572.88 L898.5,572.02 L899.5,571.16 L900.5,570.30 L901.5,569.43 L902.5,568.56 L903.5,567.70 L904.5,566.83 L905.5,565.95 L906.5,565.08 L907.5,564.21 L908.5,563.33 L909.5,562.46 L910.5,561.59 L911.5,560.71 L912.5,559.83 L913.5,558.96 L914.5,558.08 L915.5,557.21 L916.5,556.34 L917.5,555.46 L918.5,554.59 L919.5,553.72 L920.5,552.85 L921.5,551.98 L922.5,551.12 L923.5,550.25 L924.5,549.39 L925.5,548.54 L926.5,547.69 L927.5,546.85 L928.5,546.01 L929.5,545.18 L930.5,544.36 L931.5,543.55 L932.5,542.74 L933.5,541.95 L934.5,541.16 L935.5,540.39 L936.5,539.63 L937.5,538.89 L938.5,538.15 L939.5,537.43 L940.5,536.73 L941.5,536.04 L942.5,535.37 L943.5,534.71 L944.5,534.08 L945.5,533.46 L946.5,532.86 L947.5,532.28 L948.5,531.72 L949.5,531.17 L950.5,530.65 L951.5,530.14 L952.5,529.65 L953.5,529.17 L954.5,528.70 L955.5,528.25 L956.5,527.81 L957.5,527.37 L958.5,526.95 L959.5,526.53 L960.5,526.12 L961.5,525.72 L962.5,525.31 L963.5,524.92 L964.5,524.52 L965.5,524.13 L966.5,523.73 L967.5,523.34 L968.5,522.94 L969.5,522.54 L970.5,522.13 L971.5,521.72 L972.5,521.31 L973.5,520.89 L974.5,520.47 L975.5,520.04 L976.5,519.61 L977.5,519.18 L978.5,518.74 L979.5,518.30 L980.5,517.86 L981.5,517.41 L982.5,516.96 L983.5,516.51 L984.5,516.06 L985.5,515.61 L986.5,515.15 L987.5,514.69 L988.5,514.24 L989.5,513.78 L990.5,513.32 L991.5,512.86 L992.5,512.40 L993.5,511.94 L994.5,511.48 L995.5,511.03 L996.5,510.57 L997.5,510.11 L998.5,509.66 L999.5,509.20 L1000.5,508.75 L1001.5,508.30 L1002.5,507.85 L1003.5,507.41 L1004.5,506.96 L1005.5,506.52 L1006.5,506.09 L1007.5,505.65 L1008.5,505.22 L1009.5,504.80 L1010.5,504.37 L1011.5,503.96 L1012.5,503.54 L1013.5,503.13 L1014.5,502.72 L1015.5,502.32 L1016.5,501.92 L1017.5,501.52 L1018.5,501.13 L1019.5,500.74 L1020.5,500.36 L1021.5,499.98 L1022.5,499.60 L1023.5,499.22 L1024.5,498.85 L1025.5,498.49 L1026.5,498.12 L1027.5,497.76 L1028.5,497.40 L1029.5,497.04 L1030.5,496.69 L1031.5,496.34 L1032.5,495.99 L1033.5,495.65 L1034.5,495.31 L1035.5,494.97 L1036.5,494.63 L1037.5,494.30 L1038.5,493.97 L1039.5,493.64 L1040.5,493.32 L1041.5,492.99 L1042.5,492.67 L1043.5,492.35 L1044.5,492.04 L1045.5,491.72 L1046.5,491.41 L1047.5,491.10 L1048.5,490.79 L1049.5,490.48 L1050.5,490.18 L1051.5,489.88 L1052.5,489.57 L1053.5,489.27 L1054.5,488.98 L1055.5,488.68 L1056.5,488.39 L1057.5,488.10 L1058.5,487.81 L1059.5,487.53 L1060.5,487.25 L1061.5,486.97 L1062.5,486.69 L1063.5,486.42 L1064.5,486.16 L1065.5,485.89 L1066.5,485.63 L1067.5,485.38 L1068.5,485.13 L1069.5,484.88 L1070.5,484.64 L1071.5,484.40 L1072.5,484.17 L1073.5,483.95 L1074.5,483.73 L1075.5,483.51 L1076.5,483.31 L1077.5,483.10 L1078.5,482.91 L1079.5,482.71 L1080.5,482.53 L1081.5,482.34 L1082.5,482.17 L1083.5,481.99 L1084.5,481.82 L1085.5,481.66 L1086.5,481.50 L1087.5,481.34 L1088.5,481.19 L1089.5,481.04 L1090.5,480.89 L1091.5,480.74 L1092.5,480.60 L1093.5,480.46 L1094.5,480.33 L1095.5,480.19 L1096.5,480.06 L1097.5,479.93 L1098.5,479.80 L1099.5,479.67 L1100.5,479.55 L1101.5,479.42 L1102.5,479.30 L1103.5,479.18 L1104.5,479.05 L1105.5,478.93 L1106.5,478.81 L1107.5,478.69 L1108.5,478.57 L1109.5,478.45 L1110.5,478.32 L1111.5,478.20 L1112.5,478.08 L1113.5,477.95 L1114.5,477.83 L1115.5,477.70 L1116.5,477.57 L1117.5,477.44 L1118.5,477.30 L1119.5,477.17 L1120.5,477.03 L1121.5,476.89 L1122.5,476.75 L1123.5,476.61 L1124.5,476.46 L1125.5,476.31 L1126.5,476.16 L1127.5,476.01 L1128.5,475.86 L1129.5,475.70 L1130.5,475.55 L1131.5,475.39 L1132.5,475.23 L1133.5,475.07 L1134.5,474.91 L1135.5,474.75 L1136.5,474.59 L1137.5,474.43 L1138.5,474.26 L1139.5,474.10 L1140.5,473.94 L1141.5,473.77 L1142.5,473.61 L1143.5,473.45 L1144.5,473.29 L1145.5,473.12 L1146.5,472.96 L1147.5,472.80 L1148.5,472.64 L1149.5,472.48 L1150.5,472.32 L1151.5,472.16 L1152.5,472.01 L1153.5,471.85 L1154.5,471.70 L1155.5,471.55 L1156.5,471.39 L1157.5,471.25 L1158.5,471.10 L1159.5,470.95 L1160.5,470.81 L1161.5,470.67 L1162.5,470.53 L1163.5,470.39 L1164.5,470.26 L1165.5,470.13 L1166.5,470.00" stroke="#8dd4a8" stroke-width="7.5" stroke-linecap="butt"/>
<circle cx="1166.50" cy="470.00" r="3.75" fill="#8dd4a8"/>
<path d="M536.5,685.30 L537.5,685.26 L538.5,685.21 L539.5,685.17 L540.5,685.12 L541.5,685.08 L542.5,685.03 L543.5,684.98 L544.5,684.93 L545.5,684.88 L546.5,684.83 L547.5,684.77 L548.5,684.72 L549.5,684.66 L550.5,684.60 L551.5,684.54 L552.5,684.48 L553.5,684.41 L554.5,684.35 L555.5,684.28 L556.5,684.21 L557.5,684.14 L558.5,684.06 L559.5,683.99 L560.5,683.91 L561.5,683.83 L562.5,683.75 L563.5,683.67 L564.5,683.58 L565.5,683.50 L566.5,683.41 L567.5,683.31 L568.5,683.22 L569.5,683.12 L570.5,683.02 L571.5,682.92 L572.5,682.82 L573.5,682.71 L574.5,682.60 L575.5,682.49 L576.5,682.37 L577.5,682.26 L578.5,682.14 L579.5,682.01 L580.5,681.89 L581.5,681.76 L582.5,681.63 L583.5,681.49 L584.5,681.35 L585.5,681.21 L586.5,681.07 L587.5,680.92 L588.5,680.77 L589.5,680.61 L590.5,680.46 L591.5,680.30 L592.5,680.13 L593.5,679.97 L594.5,679.80 L595.5,679.62 L596.5,679.44 L597.5,679.26 L598.5,679.08 L599.5,678.89 L600.5,678.70 L601.5,678.50 L602.5,678.30 L603.5,678.10 L604.5,677.89 L605.5,677.68 L606.5,677.46 L607.5,677.25 L608.5,677.02 L609.5,676.80 L610.5,676.57 L611.5,676.34 L612.5,676.11 L613.5,675.87 L614.5,675.63 L615.5,675.39 L616.5,675.14 L617.5,674.89 L618.5,674.64 L619.5,674.39 L620.5,674.13 L621.5,673.87 L622.5,673.61 L623.5,673.34 L624.5,673.08 L625.5,672.80 L626.5,672.53 L627.5,672.26 L628.5,671.98 L629.5,671.70 L630.5,671.42 L631.5,671.14 L632.5,670.85 L633.5,670.56 L634.5,670.27 L635.5,669.98 L636.5,669.69 L637.5,669.39 L638.5,669.09 L639.5,668.79 L640.5,668.49 L641.5,668.19 L642.5,667.89 L643.5,667.58 L644.5,667.27 L645.5,666.97 L646.5,666.66 L647.5,666.34 L648.5,666.03 L649.5,665.72 L650.5,665.40 L651.5,665.09 L652.5,664.77 L653.5,664.45 L654.5,664.13 L655.5,663.81 L656.5,663.49 L657.5,663.17 L658.5,662.85 L659.5,662.53 L660.5,662.20 L661.5,661.88 L662.5,661.56 L663.5,661.23 L664.5,660.90 L665.5,660.58 L666.5,660.25 L667.5,659.92 L668.5,659.59 L669.5,659.26 L670.5,658.93 L671.5,658.60 L672.5,658.27 L673.5,657.93 L674.5,657.60 L675.5,657.26 L676.5,656.92 L677.5,656.59 L678.5,656.25 L679.5,655.91 L680.5,655.56 L681.5,655.22 L682.5,654.88 L683.5,654.53 L684.5,654.18 L685.5,653.83 L686.5,653.48 L687.5,653.13 L688.5,652.78 L689.5,652.42 L690.5,652.07 L691.5,651.71 L692.5,651.35 L693.5,650.99 L694.5,650.63 L695.5,650.26 L696.5,649.90 L697.5,649.53 L698.5,649.16 L699.5,648.79 L700.5,648.41 L701.5,648.04 L702.5,647.66 L703.5,647.28 L704.5,646.90 L705.5,646.52 L706.5,646.13 L707.5,645.74 L708.5,645.35 L709.5,644.96 L710.5,644.57 L711.5,644.17 L712.5,643.77 L713.5,643.37 L714.5,642.96 L715.5,642.56 L716.5,642.15 L717.5,641.74 L718.5,641.33 L719.5,640.91 L720.5,640.49 L721.5,640.07 L722.5,639.65 L723.5,639.22 L724.5,638.79 L725.5,638.36 L726.5,637.93 L727.5,637.49 L728.5,637.05 L729.5,636.61 L730.5,636.16 L731.5,635.71 L732.5,635.26 L733.5,634.81 L734.5,634.35 L735.5,633.89 L736.5,633.43 L737.5,632.96 L738.5,632.49 L739.5,632.02 L740.5,631.55 L741.5,631.07 L742.5,630.59 L743.5,630.10 L744.5,629.61 L745.5,629.12 L746.5,628.63 L747.5,628.13 L748.5,627.63 L749.5,627.12 L750.5,626.62 L751.5,626.10 L752.5,625.59 L753.5,625.07 L754.5,624.55 L755.5,624.02 L756.5,623.50 L757.5,622.96 L758.5,622.43 L759.5,621.89 L760.5,621.34 L761.5,620.80 L762.5,620.25 L763.5,619.69 L764.5,619.13 L765.5,618.57 L766.5,618.00 L767.5,617.43 L768.5,616.86 L769.5,616.28 L770.5,615.70 L771.5,615.12 L772.5,614.53 L773.5,613.93 L774.5,613.33 L775.5,612.73 L776.5,612.13 L777.5,611.52 L778.5,610.90 L779.5,610.28 L780.5,609.66 L781.5,609.03 L782.5,608.40 L783.5,607.77 L784.5,607.13 L785.5,606.49 L786.5,605.84 L787.5,605.19 L788.5,604.54 L789.5,603.88 L790.5,603.22 L791.5,602.56 L792.5,601.89 L793.5,601.22 L794.5,600.55 L795.5,599.88 L796.5,599.20 L797.5,598.52 L798.5,597.84 L799.5,597.15 L800.5,596.47 L801.5,595.78 L802.5,595.09 L803.5,594.40 L804.5,593.70 L805.5,593.01 L806.5,592.31 L807.5,591.61 L808.5,590.91 L809.5,590.21 L810.5,589.51 L811.5,588.80 L812.5,588.10 L813.5,587.39 L814.5,586.69 L815.5,585.98 L816.5,585.27 L817.5,584.57 L818.5,583.86 L819.5,583.15 L820.5,582.44 L821.5,581.74 L822.5,581.03 L823.5,580.32 L824.5,579.61 L825.5,578.91 L826.5,578.20 L827.5,577.50 L828.5,576.79 L829.5,576.09 L830.5,575.39 L831.5,574.68 L832.5,573.98 L833.5,573.28 L834.5,572.57 L835.5,571.85 L836.5,571.14 L837.5,570.41 L838.5,569.67 L839.5,568.93 L840.5,568.18 L841.5,567.41 L842.5,566.63 L843.5,565.83 L844.5,565.02 L845.5,564.19 L846.5,563.34 L847.5,562.48 L848.5,561.59 L849.5,560.68 L850.5,559.75 L851.5,558.79 L852.5,557.80 L853.5,556.79 L854.5,555.76 L855.5,554.70 L856.5,553.62 L857.5,552.51 L858.5,551.39 L859.5,550.25 L860.5,549.08 L861.5,547.91 L862.5,546.71 L863.5,545.51 L864.5,544.29 L865.5,543.05 L866.5,541.81 L867.5,540.56 L868.5,539.29 L869.5,538.03 L870.5,536.75 L871.5,535.47 L872.5,534.18 L873.5,532.89 L874.5,531.59 L875.5,530.29 L876.5,528.98 L877.5,527.67 L878.5,526.35 L879.5,525.03 L880.5,523.70 L881.5,522.37 L882.5,521.03 L883.5,519.69 L884.5,518.35 L885.5,517.00 L886.5,515.64 L887.5,514.29 L888.5,512.92 L889.5,511.56 L890.5,510.19 L891.5,508.81 L892.5,507.44 L893.5,506.06 L894.5,504.67 L895.5,503.28 L896.5,501.89 L897.5,500.50 L898.5,499.10 L899.5,497.70 L900.5,496.30 L901.5,494.89 L902.5,493.48 L903.5,492.07 L904.5,490.66 L905.5,489.24 L906.5,487.82 L907.5,486.40 L908.5,484.98 L909.5,483.56 L910.5,482.13 L911.5,480.70 L912.5,479.27 L913.5,477.84 L914.5,476.40 L915.5,474.97 L916.5,473.53 L917.5,472.09 L918.5,470.65 L919.5,469.21 L920.5,467.77 L921.5,466.33 L922.5,464.88 L923.5,463.44 L924.5,462.00 L925.5,460.55 L926.5,459.10 L927.5,457.66 L928.5,456.21 L929.5,454.77 L930.5,453.32 L931.5,451.88 L932.5,450.43 L933.5,448.99 L934.5,447.54 L935.5,446.10 L936.5,444.66 L937.5,443.21 L938.5,441.77 L939.5,440.33 L940.5,438.90 L941.5,437.46 L942.5,436.02 L943.5,434.59 L944.5,433.16 L945.5,431.73 L946.5,430.30 L947.5,428.87 L948.5,427.45 L949.5,426.03 L950.5,424.61 L951.5,423.19 L952.5,421.78 L953.5,420.37 L954.5,418.96 L955.5,417.56 L956.5,416.15 L957.5,414.76 L958.5,413.36 L959.5,411.97 L960.5,410.58 L961.5,409.20 L962.5,407.82 L963.5,406.44 L964.5,405.07 L965.5,403.70 L966.5,402.34 L967.5,400.98 L968.5,399.62 L969.5,398.27 L970.5,396.93 L971.5,395.59 L972.5,394.25 L973.5,392.92 L974.5,391.59 L975.5,390.27 L976.5,388.96 L977.5,387.65 L978.5,386.34 L979.5,385.04 L980.5,383.75 L981.5,382.45 L982.5,381.17 L983.5,379.89 L984.5,378.61 L985.5,377.34 L986.5,376.08 L987.5,374.82 L988.5,373.56 L989.5,372.32 L990.5,371.07 L991.5,369.83 L992.5,368.60 L993.5,367.37 L994.5,366.15 L995.5,364.93 L996.5,363.72 L997.5,362.51 L998.5,361.31 L999.5,360.12 L1000.5,358.93 L1001.5,357.74 L1002.5,356.56 L1003.5,355.39 L1004.5,354.22 L1005.5,353.06 L1006.5,351.91 L1007.5,350.75 L1008.5,349.61 L1009.5,348.47 L1010.5,347.34 L1011.5,346.21 L1012.5,345.09 L1013.5,343.97 L1014.5,342.86 L1015.5,341.75 L1016.5,340.65 L1017.5,339.56 L1018.5,338.47 L1019.5,337.39 L1020.5,336.32 L1021.5,335.25 L1022.5,334.18 L1023.5,333.12 L1024.5,332.07 L1025.5,331.02 L1026.5,329.97 L1027.5,328.93 L1028.5,327.89 L1029.5,326.85 L1030.5,325.81 L1031.5,324.78 L1032.5,323.75 L1033.5,322.72 L1034.5,321.69 L1035.5,320.66 L1036.5,319.64 L1037.5,318.61 L1038.5,317.58 L1039.5,316.55 L1040.5,315.52 L1041.5,314.49 L1042.5,313.45 L1043.5,312.42 L1044.5,311.38 L1045.5,310.33 L1046.5,309.29 L1047.5,308.24 L1048.5,307.18 L1049.5,306.13 L1050.5,305.06 L1051.5,303.99 L1052.5,302.92 L1053.5,301.84 L1054.5,300.75 L1055.5,299.66 L1056.5,298.56 L1057.5,297.47 L1058.5,296.38 L1059.5,295.30 L1060.5,294.24 L1061.5,293.21 L1062.5,292.20 L1063.5,291.23 L1064.5,290.30 L1065.5,289.41 L1066.5,288.58 L1067.5,287.80 L1068.5,287.06 L1069.5,286.38 L1070.5,285.74 L1071.5,285.13 L1072.5,284.57 L1073.5,284.04 L1074.5,283.54 L1075.5,283.07 L1076.5,282.63 L1077.5,282.21 L1078.5,281.81 L1079.5,281.43 L1080.5,281.06 L1081.5,280.71 L1082.5,280.37 L1083.5,280.05 L1084.5,279.73 L1085.5,279.43 L1086.5,279.14 L1087.5,278.85 L1088.5,278.57 L1089.5,278.30 L1090.5,278.03 L1091.5,277.76 L1092.5,277.49 L1093.5,277.23 L1094.5,276.96 L1095.5,276.70 L1096.5,276.43 L1097.5,276.15 L1098.5,275.87 L1099.5,275.58 L1100.5,275.29 L1101.5,274.99 L1102.5,274.67 L1103.5,274.35 L1104.5,274.01 L1105.5,273.66 L1106.5,273.29 L1107.5,272.90 L1108.5,272.50 L1109.5,272.08 L1110.5,271.64 L1111.5,271.18 L1112.5,270.70 L1113.5,270.19 L1114.5,269.67 L1115.5,269.13 L1116.5,268.57 L1117.5,267.99 L1118.5,267.39 L1119.5,266.77 L1120.5,266.14 L1121.5,265.48 L1122.5,264.81 L1123.5,264.12 L1124.5,263.42 L1125.5,262.69 L1126.5,261.95 L1127.5,261.19 L1128.5,260.42 L1129.5,259.63 L1130.5,258.82 L1131.5,258.00 L1132.5,257.16 L1133.5,256.31 L1134.5,255.44 L1135.5,254.56 L1136.5,253.66 L1137.5,252.75 L1138.5,251.83 L1139.5,250.89 L1140.5,249.94 L1141.5,248.97 L1142.5,247.99 L1143.5,247.00 L1144.5,246.00 L1145.5,244.98 L1146.5,243.95 L1147.5,242.91 L1148.5,241.86 L1149.5,240.80 L1150.5,239.72 L1151.5,238.64 L1152.5,237.54 L1153.5,236.44 L1154.5,235.32 L1155.5,234.20 L1156.5,233.06 L1157.5,231.92 L1158.5,230.77 L1159.5,229.61 L1160.5,228.44 L1161.5,227.26 L1162.5,226.07 L1163.5,224.88 L1164.5,223.68 L1165.5,222.47 L1166.5,221.26" stroke="#fa9b95" stroke-width="6.5" stroke-linecap="butt"/>
<circle cx="1166.50" cy="221.26" r="3.25" fill="#fa9b95"/>
</g>
</svg>
</body>
</html>
